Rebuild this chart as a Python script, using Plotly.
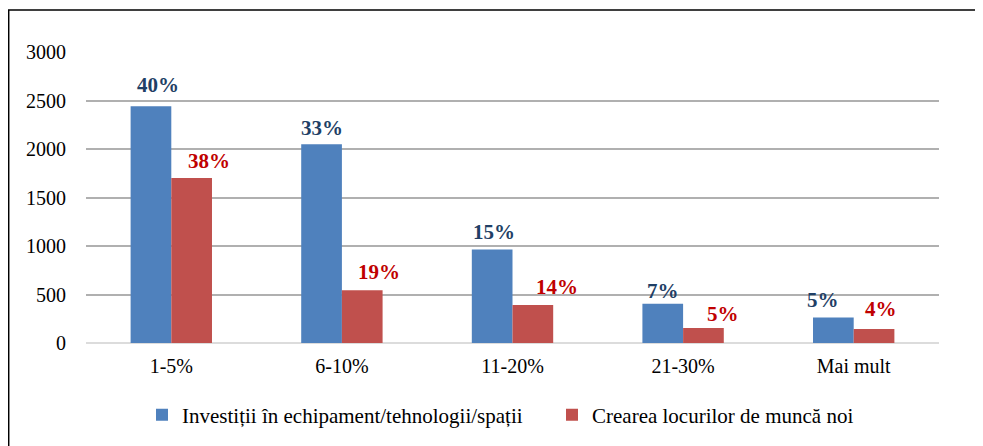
import plotly.graph_objects as go

categories = ["1-5%", "6-10%", "11-20%", "21-30%", "Mai mult"]
series_names = ["Investiții în echipament/tehnologii/spații", "Crearea locurilor de muncă noi"]
invest_values = [2440, 2050, 965, 405, 262]
jobs_values = [1700, 545, 393, 155, 145]
invest_labels = ["40%", "33%", "15%", "7%", "5%"]
jobs_labels = ["38%", "19%", "14%", "5%", "4%"]
y_ticks = [0, 500, 1000, 1500, 2000, 2500, 3000]

# layout / style (page body adds an 8px offset, compensated here)
OFF = 8
W, H = 983 - OFF, 446 - OFF
ML, MR, MT, MB = 86 - OFF, 44, 52 - OFF, 103
BARGAP = 0.523
BLUE, RED = "#4F81BD", "#C0504D"
BLUE_TXT, RED_TXT = "#1F3F66", "#C00000"
FONT = "Liberation Serif, Times New Roman, serif"

plot_w = W - ML - MR
plot_h = H - MT - MB
cat_w = plot_w / len(categories)
half_bar = cat_w * (1 - BARGAP) / 4  # offset of each bar centre from category centre

blue_dx = [7, 0, 2, 0, -10]
red_dx = [17, 17, 24, 20, 7]
blue_dy = [7, 2, 3, -1, 4]
red_dy = [3, 4, 4, 0, 6]

fig = go.Figure()
fig.add_trace(go.Bar(x=categories, y=invest_values, name=series_names[0],
                     marker=dict(color=BLUE, line=dict(width=0))))
fig.add_trace(go.Bar(x=categories, y=jobs_values, name=series_names[1],
                     marker=dict(color=RED, line=dict(width=0))))

ann = []
for i, c in enumerate(categories):
    ann.append(dict(x=c, y=invest_values[i], xref="x", yref="y", text=invest_labels[i],
                    showarrow=False, yanchor="bottom", xanchor="center",
                    xshift=-half_bar + blue_dx[i], yshift=blue_dy[i],
                    font=dict(family=FONT, size=21, color=BLUE_TXT, weight="bold")))
    ann.append(dict(x=c, y=jobs_values[i], xref="x", yref="y", text=jobs_labels[i],
                    showarrow=False, yanchor="bottom", xanchor="center",
                    xshift=half_bar + red_dx[i], yshift=red_dy[i],
                    font=dict(family=FONT, size=21, color=RED_TXT, weight="bold")))


def px_x(p):
    return (p - OFF - ML) / plot_w


def px_y(p):
    return (H - MB - (p - OFF)) / plot_h


border = dict(type="path", xref="paper", yref="paper",
              path=f"M {px_x(8.7)} {px_y(460)} L {px_x(8.7)} {px_y(10)} L {px_x(995)} {px_y(10)}",
              line=dict(color="black", width=1.5))

fig.update_layout(
    width=W, height=H,
    margin=dict(l=ML, r=MR, t=MT, b=MB, autoexpand=False),
    paper_bgcolor="white", plot_bgcolor="white",
    barmode="group", bargap=BARGAP, bargroupgap=0,
    font=dict(family=FONT, size=20, color="black"),
    xaxis=dict(showgrid=False, showline=False, ticks="", ticklabelstandoff=9,
               tickfont=dict(family=FONT, size=20, color="black")),
    yaxis=dict(range=[0, 3000], tickvals=y_ticks, showgrid=True, gridcolor="#B0B0B0",
               gridwidth=2, zeroline=True, zerolinecolor="#DCDCDC", zerolinewidth=2,
               showline=False, ticks="", ticklabelstandoff=19,
               tickfont=dict(family=FONT, size=20, color="black")),
    legend=dict(orientation="h", x=px_x(142), xanchor="left", y=px_y(415), yanchor="middle",
                font=dict(family=FONT, size=21, color="black"), itemwidth=30,
                entrywidth=365, bgcolor="rgba(0,0,0,0)"),
    annotations=ann,
    shapes=[border],
)

fig.write_html("out.html")
